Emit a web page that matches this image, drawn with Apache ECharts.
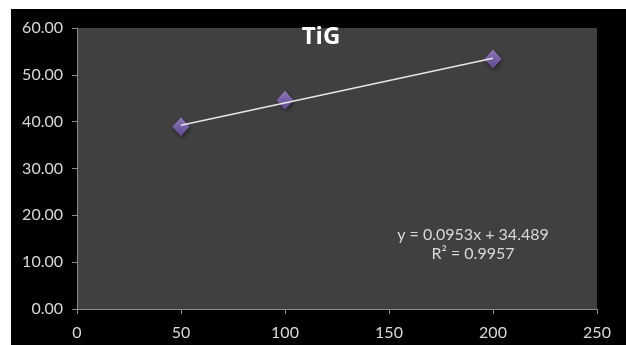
<!DOCTYPE html>
<html>
<head>
<meta charset="utf-8">
<script src="https://cdn.jsdelivr.net/npm/echarts@6/dist/echarts.min.js"></script>
<style>
  html, body { margin: 0; padding: 0; background: #fff; }
  #wrap { position: absolute; left: 11px; top: 9px; width: 615px; height: 336px; background: #000; }
  #chart { width: 615px; height: 336px; }
</style>
</head>
<body>
<div id="wrap"><div id="chart"></div></div>
<script>
  let doses = [50, 100, 200];
  let values = [38.89, 44.56, 53.37];
  let trendX = [50, 200];
  let trendY = [39.25, 53.55];
  let yTicks = [0, 10, 20, 30, 40, 50, 60];
  let xTicks = [0, 50, 100, 150, 200, 250];

  let chart = echarts.init(document.getElementById('chart'));
  let labelFont = {color: '#d9d9d9', fontSize: 16, fontFamily: 'Lato'};

  let option = {
    backgroundColor: '#000',
    animation: false,
    title: {
      text: 'TiG', left: 305, top: 11, textAlign: 'center',
      textStyle: {color: '#fff', fontSize: 24, fontWeight: 'bold', fontFamily: 'Open Sans'}
    },
    grid: {left: 66, top: 19, right: 29, bottom: 36, show: true, backgroundColor: '#404040', borderWidth: 0},
    xAxis: {
      type: 'value', min: xTicks[0], max: xTicks[xTicks.length - 1], interval: 50,
      axisLine: {lineStyle: {color: '#8a8a8a', width: 1}},
      axisTick: {show: true, length: 5, lineStyle: {color: '#8a8a8a'}},
      splitLine: {show: false},
      axisLabel: Object.assign({margin: 16}, labelFont)
    },
    yAxis: {
      type: 'value', min: yTicks[0], max: yTicks[yTicks.length - 1], interval: 10,
      axisLine: {show: true, lineStyle: {color: '#8a8a8a', width: 1}},
      axisTick: {show: true, length: 5, lineStyle: {color: '#8a8a8a'}},
      splitLine: {show: false},
      axisLabel: Object.assign({margin: 14, formatter: function (v) { return v.toFixed(2); }}, labelFont)
    },
    series: [
      {
        type: 'line', z: 2,
        data: trendX.map(function (x, i) { return [x, trendY[i]]; }),
        symbol: 'none',
        lineStyle: {color: '#e6e6e6', width: 1.5}
      },
      {
        type: 'scatter', z: 1,
        data: doses.map(function (x, i) { return [x, values[i]]; }),
        symbol: 'diamond', symbolSize: [17, 19],
        itemStyle: {
          color: new echarts.graphic.LinearGradient(0, 0, 0, 1, [
            {offset: 0, color: '#a58ad8'},
            {offset: 1, color: '#6f4fae'}
          ]),
          shadowColor: 'rgba(0,0,0,0.6)', shadowBlur: 4, shadowOffsetX: 1, shadowOffsetY: 2
        }
      }
    ],
    graphic: [{
      type: 'text', x: 462, y: 216,
      style: {
        text: 'y = 0.0953x + 34.489\nR² = 0.9957',
        fill: '#d9d9d9', font: '16px Lato', align: 'center', verticalAlign: 'top', lineHeight: 19
      }
    }]
  };
  chart.setOption(option);
</script>
</body>
</html>
